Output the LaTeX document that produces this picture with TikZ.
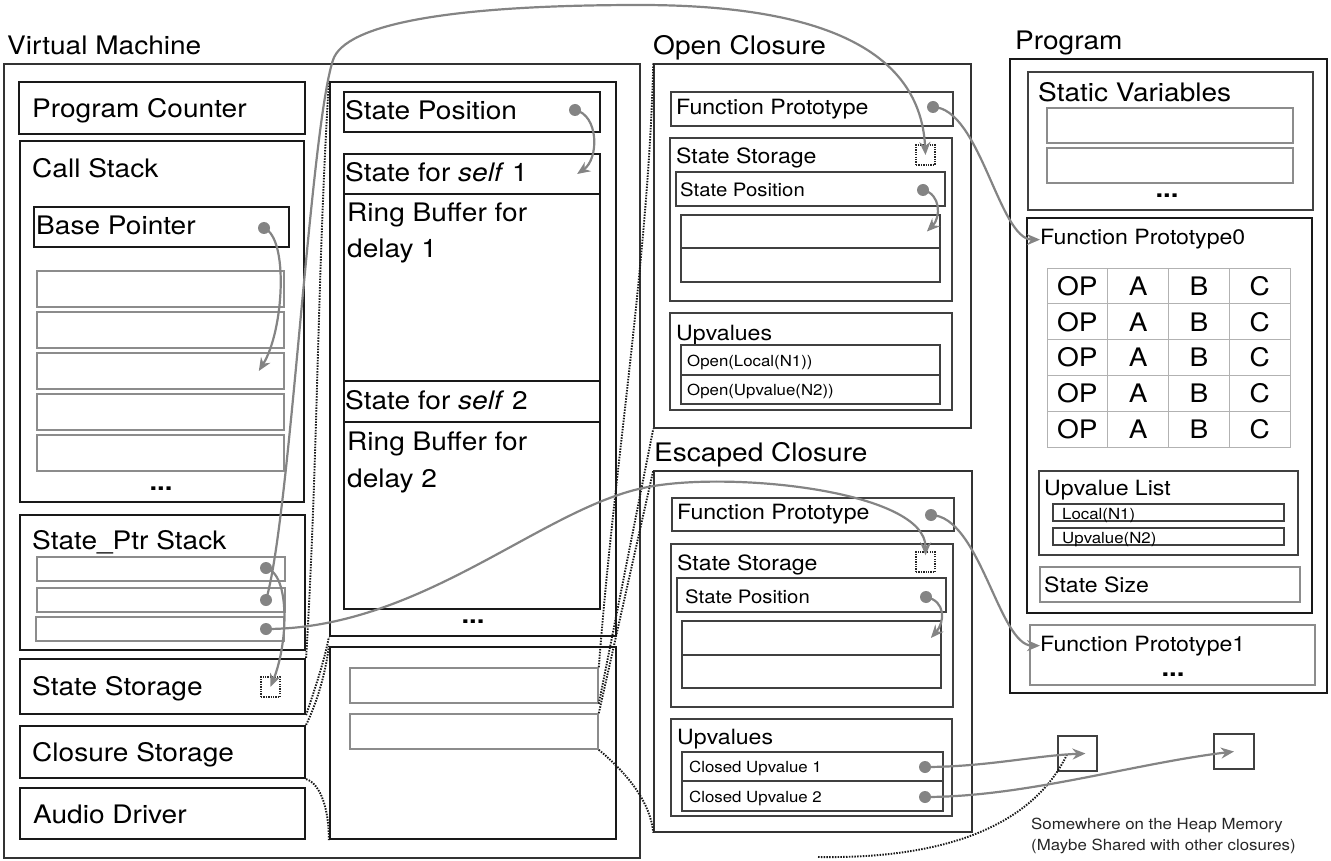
\documentclass[tikz,border=0pt]{standalone}
\usepackage{fontspec}
\setmainfont[FakeStretch=1.1]{TeX Gyre Heros}
\usetikzlibrary{arrows.meta,fit}

\definecolor{linkgray}{RGB}{132,132,132}

\tikzset{
  frame/.style={draw=black!80,line width=1.4pt,inner sep=0pt},
  heavy/.style={draw=black!90,line width=2.2pt,inner sep=0pt},
  mid/.style={draw=black!75,line width=1.8pt,inner sep=0pt},
  slot/.style={draw=black!45,line width=1.6pt,inner sep=0pt},
  marker/.style={draw=black!85,line width=1.4pt,dash pattern=on 1.3pt off 1.1pt,inner sep=0pt},
  big/.style={anchor=base west,inner sep=0pt,font=\fontsize{25.5}{30}\selectfont},
  med/.style={anchor=base west,inner sep=0pt,font=\fontsize{21}{25}\selectfont},
  sml/.style={anchor=base west,inner sep=0pt,font=\fontsize{18.5}{22}\selectfont},
  tiny/.style={anchor=base west,inner sep=0pt,font=\fontsize{15.3}{18}\selectfont},
  more/.style={anchor=base,inner sep=0pt,font=\fontsize{25}{25}\selectfont\bfseries},
  cell/.style={draw=black!30,line width=1pt,minimum width=60.75pt,minimum height=35.8pt,
    inner sep=0pt,font=\fontsize{25.5}{30}\selectfont},
  dot/.style={circle,fill=linkgray,inner sep=0pt,minimum size=12pt},
  ptr/.style={draw=linkgray,line width=2.2pt,-{Stealth[length=13pt,width=11pt]}},
  zoomline/.style={draw=black!90,line width=1.9pt,dash pattern=on 1.5pt off 1.3pt},
}

\begin{document}
\begin{tikzpicture}[x=1pt,y=-1pt]
  \useasboundingbox (0,0) rectangle (1331,861);

  % virtual machine
  \node[big] (vm-title) at (7,55) {Virtual Machine};
  \node[frame, fit={(4,64) (640,858)}] (vm) {};
  \node[heavy, fit={(19,82) (305,134)}] (pc) {};
  \node[big] (pc-txt) at (32,118) {Program Counter};
  \node[heavy, fit={(20,141) (304,502)}] (cstack) {};
  \node[big] (cstack-txt) at (32,178) {Call Stack};
  \node[heavy, fit={(34,207) (289,247)}] (bp) {};
  \node[big] (bp-txt) at (36,235) {Base Pointer};
  \foreach \i in {0,...,4}
    \node[slot, fit={(37,{271+41*\i}) (284,{307+41*\i})}] (cs-\i) {};
  \node[more] (cs-more) at (161,490) {...};

  \node[heavy, fit={(20,515) (305,650)}] (sp) {};
  \node[big] (sp-txt) at (32,549) {State\_Ptr Stack};
  \node[slot, fit={(37,557) (285,581)}] (sp-0) {};
  \node[slot, fit={(37,588) (285,612)}] (sp-1) {};
  \node[slot, fit={(36,617) (284,641)}] (sp-2) {};

  \node[heavy, fit={(20,659) (305,714)}] (sstore) {};
  \node[big] (sstore-txt) at (32,695) {State Storage};
  \node[marker, fit={(261,677) (280,697)}] (sstore-slot) {};
  \node[heavy, fit={(20,726) (305,778)}] (cstore) {};
  \node[big] (cstore-txt) at (32,761) {Closure Storage};
  \node[heavy, fit={(20,788) (305,839)}] (audio) {};
  \node[big] (audio-txt) at (33,823) {Audio Driver};

  % state storage, expanded
  \node[heavy, fit={(330,82) (616,636)}] (states) {};
  \node[heavy, fit={(344,92) (600,132)}] (pos) {};
  \node[big] (pos-txt) at (345,120) {State Position};
  \node[heavy, fit={(344,154) (600,194)}] (self1) {};
  \node[big] (self1-txt) at (345,182) {State for \textit{self} 1};
  \node[heavy, fit={(344,194) (600,381)}] (ring1) {};
  \node[big] (ring1-txt) at (347,222) {Ring Buffer for};
  \node[big] (ring1-txt2) at (347,258) {delay 1};
  \node[heavy, fit={(344,381) (600,422)}] (self2) {};
  \node[big] (self2-txt) at (345,409) {State for \textit{self} 2};
  \node[heavy, fit={(344,422) (600,609)}] (ring2) {};
  \node[big] (ring2-txt) at (347,450) {Ring Buffer for};
  \node[big] (ring2-txt2) at (347,487) {delay 2};
  \node[more] (states-more) at (473,623) {...};

  % closure storage, expanded
  \node[heavy, fit={(330,647) (616,839)}] (closures) {};
  \node[slot, fit={(350,668) (598,703)}] (crow-1) {};
  \node[slot, fit={(350,714) (598,749)}] (crow-2) {};

  % open closure
  \node[big] (oc-title) at (653,55) {Open Closure};
  \node[frame, fit={(654,64) (971,428)}] (oc) {};
  \node[mid, fit={(671,92) (953,126)}] (oc-fp) {};
  \node[med] (oc-fp-txt) at (676,115) {Function Prototype};
  \node[mid, fit={(670,138) (952,301)}] (oc-ss) {};
  \node[med] (oc-ss-txt) at (676,164) {State Storage};
  \node[marker, fit={(916,145) (935,165)}] (oc-slot) {};
  \node[mid, fit={(676,172) (945,206)}] (oc-pos) {};
  \node[sml] (oc-pos-txt) at (680,197) {State Position};
  \node[mid, fit={(681,215) (940,248)}] (oc-r1) {};
  \node[mid, fit={(681,248) (940,282)}] (oc-r2) {};
  \node[mid, fit={(670,313) (952,410)}] (oc-up) {};
  \node[med] (oc-up-txt) at (676,340) {Upvalues};
  \node[mid, fit={(681,345) (940,375)}] (oc-u1) {};
  \node[tiny] (oc-u1-txt) at (687,366) {Open(Local(N1))};
  \node[mid, fit={(681,375) (940,404)}] (oc-u2) {};
  \node[tiny] (oc-u2-txt) at (687,395) {Open(Upvalue(N2))};

  % escaped closure
  \node[big] (ec-title) at (654,461) {Escaped Closure};
  \node[frame, fit={(654,471) (972,832)}] (ec) {};
  \node[mid, fit={(672,498) (954,531)}] (ec-fp) {};
  \node[med] (ec-fp-txt) at (677,519) {Function Prototype};
  \node[mid, fit={(671,544) (953,707)}] (ec-ss) {};
  \node[med] (ec-ss-txt) at (677,570) {State Storage};
  \node[marker, fit={(916,552) (935,572)}] (ec-slot) {};
  \node[mid, fit={(677,578) (946,612)}] (ec-pos) {};
  \node[sml] (ec-pos-txt) at (685,603) {State Position};
  \node[mid, fit={(682,621) (941,655)}] (ec-r1) {};
  \node[mid, fit={(682,655) (941,688)}] (ec-r2) {};
  \node[mid, fit={(671,719) (952,816)}] (ec-up) {};
  \node[med] (ec-up-txt) at (677,744) {Upvalues};
  \node[mid, fit={(682,752) (943,781)}] (ec-u1) {};
  \node[tiny] (ec-u1-txt) at (689,772) {Closed Upvalue 1};
  \node[mid, fit={(682,781) (943,811)}] (ec-u2) {};
  \node[tiny] (ec-u2-txt) at (689,802) {Closed Upvalue 2};

  % program
  \node[big] (prog-title) at (1015,50) {Program};
  \node[heavy, fit={(1010,59) (1327,693)}] (prog) {};
  \node[mid, fit={(1028,72) (1313,210)}] (statics) {};
  \node[big] (statics-txt) at (1038,102) {Static Variables};
  \node[slot, fit={(1047,108) (1293,143)}] (static-1) {};
  \node[slot, fit={(1047,148) (1293,183)}] (static-2) {};
  \node[more] (statics-more) at (1167,198) {...};

  \node[heavy, fit={(1027,218) (1312,613)}] (fp0) {};
  \node[med] (fp0-txt) at (1040,245) {Function Prototype0};
  \foreach \r in {0,...,4}
    \foreach \c/\t in {0/OP,1/A,2/B,3/C}
      \node[cell] (op-\r-\c) at ({1077.4+60.75*\c},{286+35.8*\r}) {\t};
  \node[mid, fit={(1039,471) (1298,555)}] (uvlist) {};
  \node[med] (uvlist-txt) at (1044,495) {Upvalue List};
  \node[mid, fit={(1053,504) (1284,521)}] (uv-1) {};
  \node[tiny] (uv-1-txt) at (1062,519) {Local(N1)};
  \node[mid, fit={(1053,528) (1284,545)}] (uv-2) {};
  \node[tiny] (uv-2-txt) at (1062,543) {Upvalue(N2)};
  \node[slot, fit={(1040,567) (1300,602)}] (ssize) {};
  \node[med] (ssize-txt) at (1044,592) {State Size};

  \node[slot, fit={(1030,625) (1315,685)}] (fp1) {};
  \node[med] (fp1-txt) at (1040,651) {Function Prototype1};
  \node[more] (fp1-more) at (1173,676) {...};

  % heap cells
  \node[mid, fit={(1058,736) (1097,771)}] (heap-1) {};
  \node[mid, fit={(1214,734) (1254,769)}] (heap-2) {};
  \node[tiny, text=black!85] (heap-txt) at (1031,829) {Somewhere on the Heap Memory};
  \node[tiny, text=black!85] (heap-txt2) at (1031,850) {(Maybe Shared with other closures)};
  \coordinate (heap-note) at (818,857);

  % dotted zoom lines
  \draw[zoomline] (sstore.north east) .. controls +(12,-200) and +(-12,200) .. (states.north west);
  \draw[zoomline] (sstore.south east) .. controls +(10,-30) and +(-5,25) .. (states.south west);
  \draw[zoomline] (cstore.north east) .. controls +(12,-25) and +(-3,25) .. (closures.north west);
  \draw[zoomline] (cstore.south east) .. controls +(15,5) and +(0,-30) .. (closures.south west);
  \draw[zoomline] (crow-1.north east) .. controls +(15,-200) and +(-5,200) .. (oc.north west);
  \draw[zoomline] (crow-1.south east) -- (oc.south west);
  \draw[zoomline] (crow-2.north east) -- (ec.north west);
  \draw[zoomline] (crow-2.south east) .. controls +(30,25) and +(-3,-30) .. (ec.south west);
  \draw[zoomline] (heap-note) .. controls (1000,860) and (1050,790) .. ([xshift=-10pt]heap-1.center);

  % pointers
  \node[dot] (bp-dot) at (264,228) {};
  \node[dot] (pos-dot) at (575,110) {};
  \node[dot] (sp-dot-0) at (266,568) {};
  \node[dot] (sp-dot-1) at (266,600) {};
  \node[dot] (sp-dot-2) at (266,629) {};
  \node[dot] (oc-fp-dot) at (933,107) {};
  \node[dot] (oc-pos-dot) at (923,190) {};
  \node[dot] (ec-fp-dot) at (931,515) {};
  \node[dot] (ec-pos-dot) at (926,597) {};
  \node[dot] (ec-u1-dot) at (925,767) {};
  \node[dot] (ec-u2-dot) at (925,797) {};

  \coordinate (bp-to) at ([xshift=-26pt]cs-2.east);
  \coordinate (pos-to) at ([xshift=-24pt]self1.east);
  \coordinate (oc-pos-to) at ([xshift=-14pt]oc-r1.east);
  \coordinate (ec-pos-to) at ([xshift=-11pt]ec-r1.east);

  \draw[ptr] (bp-dot.center) .. controls +(25,10) and +(25,-40) .. (bp-to);
  \draw[ptr] (pos-dot.center) .. controls +(24,5) and +(22,-15) .. (pos-to);
  \draw[ptr] (sp-dot-0.center) .. controls +(24,6) and +(18,-45) .. (sstore-slot.center);
  \draw[ptr] (sp-dot-1.center) .. controls (290,520) and (310,130) .. (333,60)
    .. controls (345,24) and (450,5) .. (640,5)
    .. controls (800,5) and (920,40) .. (oc-slot.center);
  \draw[ptr] (sp-dot-2.center) .. controls (420,629) and (540,510) .. (643,488)
    .. controls (725,470) and (926,490) .. ([yshift=-4pt]ec-slot.north);
  \draw[ptr] (oc-fp-dot.center) .. controls +(47,1) and +(-41,0) .. (fp0-txt.west);
  \draw[ptr] (oc-pos-dot.center) .. controls +(18,4) and +(14,-14) .. (oc-pos-to);
  \draw[ptr] (ec-fp-dot.center) .. controls +(49,1) and +(-41,0) .. (fp1-txt.west);
  \draw[ptr] (ec-pos-dot.center) .. controls +(20,4) and +(14,-16) .. (ec-pos-to);
  \draw[ptr] (ec-u1-dot.center) .. controls +(60,0) and +(-50,2) .. ([xshift=8pt]heap-1.center);
  \draw[ptr] (ec-u2-dot.center) .. controls +(100,0) and +(-100,12) .. (heap-2.center);
\end{tikzpicture}
\end{document}
